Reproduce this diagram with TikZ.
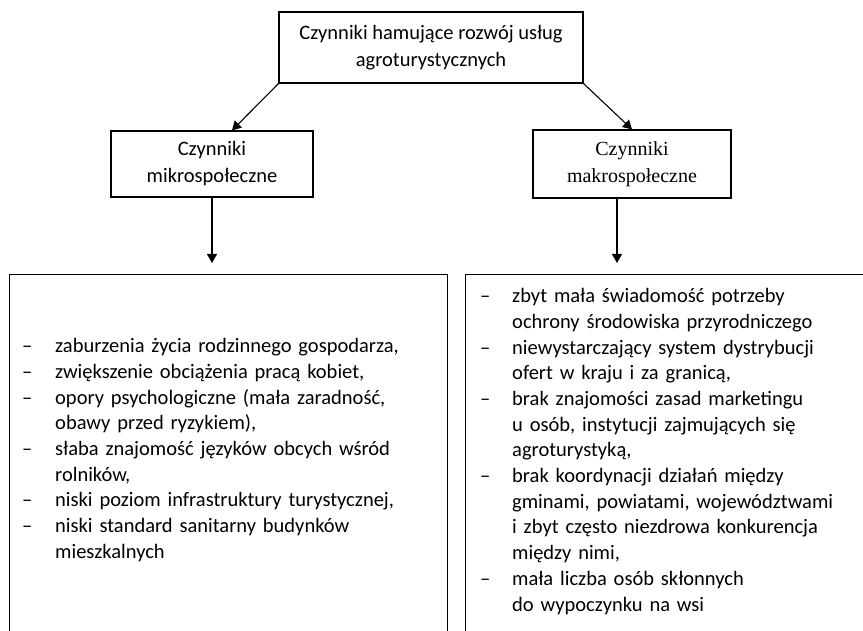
\documentclass[tikz,border=0pt]{standalone}
\usepackage{fontspec}
\setmainfont{Carlito}
\newfontfamily\timesfont{Liberation Serif}
\usetikzlibrary{arrows.meta,calc}
\tikzset{
  box/.style={draw, line width=1.2pt, rectangle, inner sep=0pt, align=center},
  conn/.style={line width=1.1pt, -{Triangle[length=9pt,width=10pt]}},
  txt/.style={font=\fontsize{20.5}{27}\selectfont},
  listtxt/.style={font=\fontsize{20.5}{25.7}\selectfont, inner sep=0pt, align=left, anchor=base west},
}
\newcommand\itm[2][33pt]{\par\raggedright\noindent\hangindent=#1\hangafter=1\makebox[#1][l]{–}#2\par}
\begin{document}
\begin{tikzpicture}[x=1pt,y=-1pt]
\clip (0,0) rectangle (863,631);
\fill[white] (0,0) rectangle (863,631);
\node[box, txt, minimum width=304pt, minimum height=71pt] (top) at (431,47.5)
  {Czynniki hamujące rozwój usług\\agroturystycznych};
\node[box, txt, minimum width=202pt, minimum height=66pt] (ml) at (212,164)
  {Czynniki\\mikrospołeczne};
\node[box, minimum width=198pt, minimum height=68pt, font=\timesfont\fontsize{20}{27}\selectfont] (mr) at (632,164)
  {Czynniki\\makrospołeczne};
\node[box, anchor=north west, minimum width=438pt, minimum height=500pt] (bl) at (9,274) {};
\node[box, anchor=north west, minimum width=430pt, minimum height=500pt] (br) at (465,274) {};
\node[listtxt, text width=420pt] (lt) at (22,327) {%
\itm{zaburzenia życia rodzinnego gospodarza,}
\itm{zwiększenie obciążenia pracą kobiet,}
\itm{opory psychologiczne (mała zaradność,\newline obawy przed ryzykiem),}
\itm{słaba znajomość języków obcych wśród\newline rolników,}
\itm{niski poziom infrastruktury turystycznej,}
\itm{niski standard sanitarny budynków\newline mieszkalnych}};
\node[listtxt, text width=380pt] (rt) at (480,277) {%
\itm[32pt]{zbyt mała świadomość potrzeby\newline ochrony środowiska przyrodniczego}
\itm[32pt]{niewystarczający system dystrybucji\newline ofert w kraju i za granicą,}
\itm[32pt]{brak znajomości zasad marketingu\newline u osób, instytucji zajmujących się\newline agroturystyką,}
\itm[32pt]{brak koordynacji działań między\newline gminami, powiatami, województwami\newline i zbyt często niezdrowa konkurencja\newline między nimi,}
\itm[32pt]{mała liczba osób skłonnych\newline do wypoczynku na wsi}};
\draw[conn] (top.south west) -- ($(ml.north)+(20,0)$);
\draw[conn] (top.south east) -- (mr.north);
\draw[conn] (ml.south) -- ($(ml.south |- bl.north)+(0,-11)$);
\draw[conn] ($(mr.south)+(-15,0)$) -- ($(mr.south |- br.north)+(-15,-11)$);
\end{tikzpicture}
\end{document}
